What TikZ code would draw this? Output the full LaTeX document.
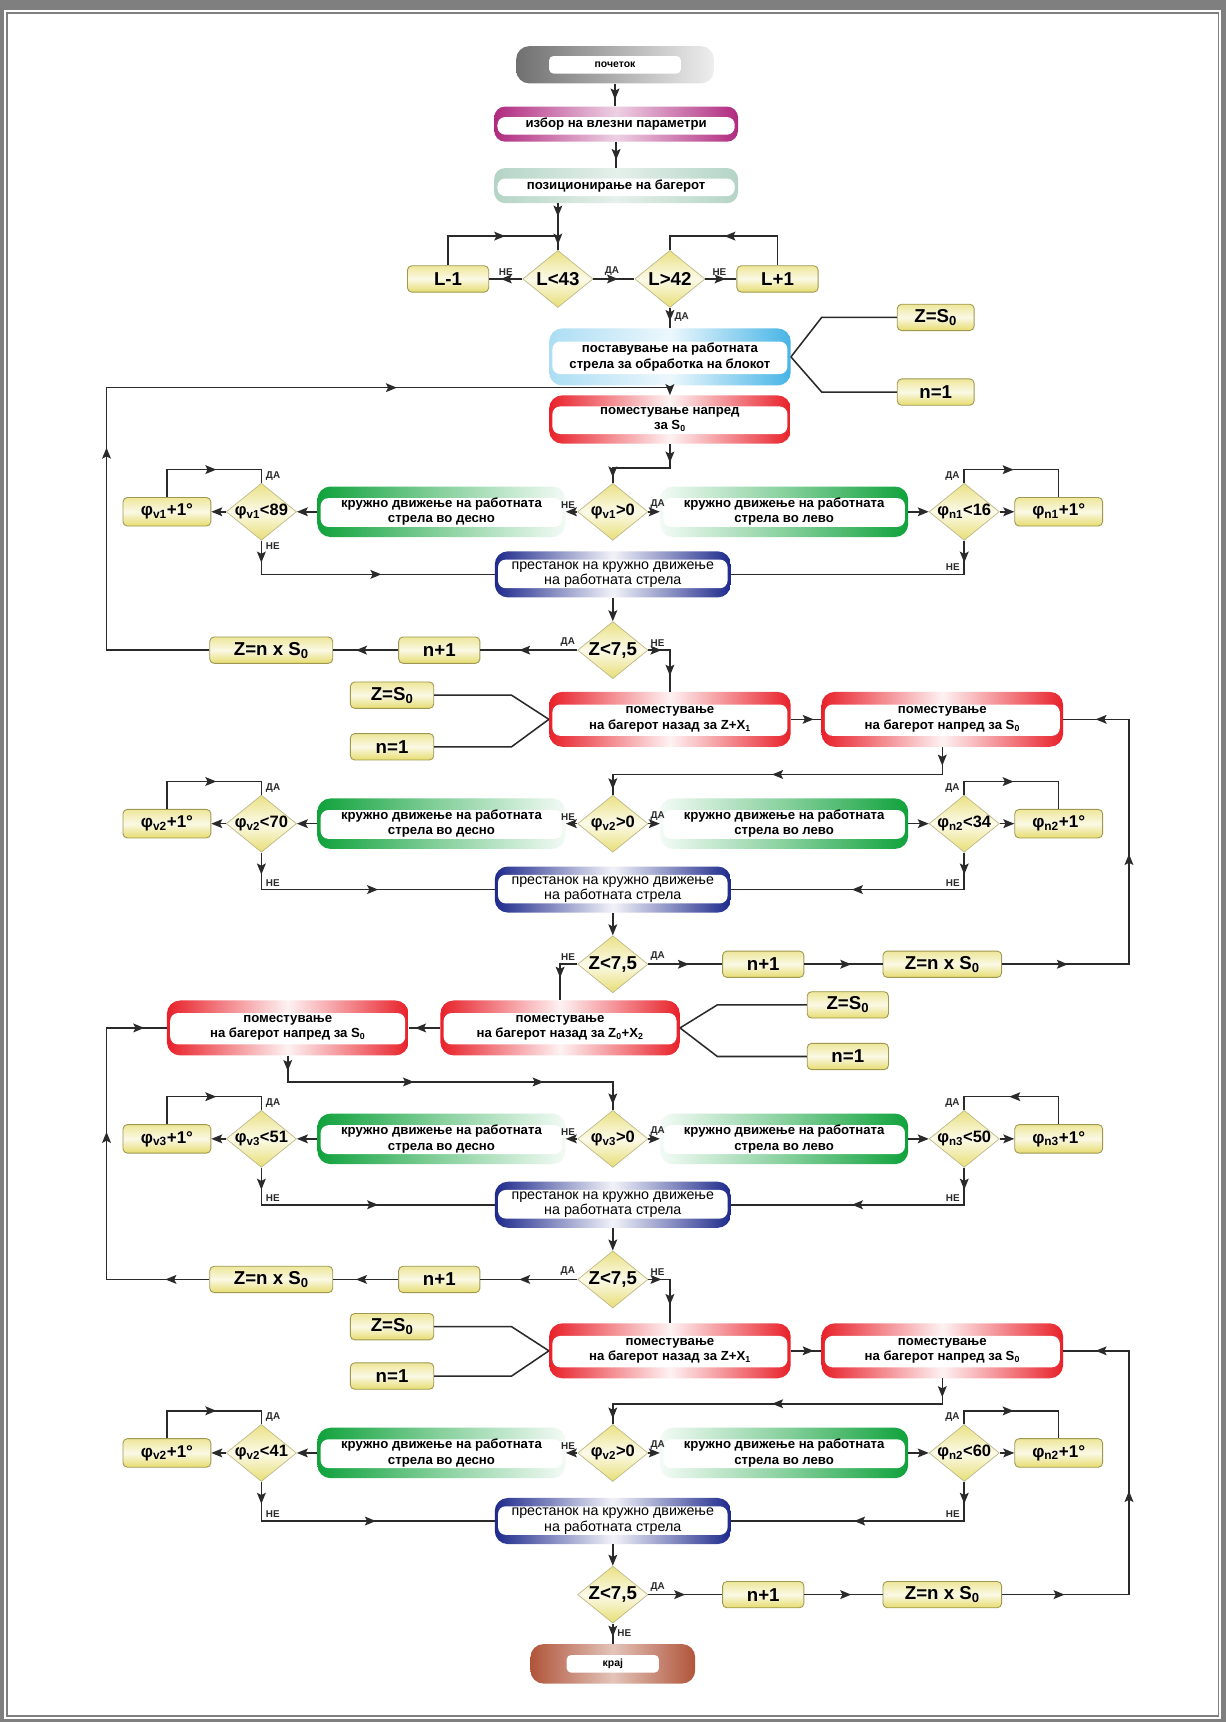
\documentclass[tikz,border=0pt]{standalone}
\usepackage{fontspec}
\setmainfont{Liberation Sans}
\usepackage{tikz}
\usetikzlibrary{positioning,arrows.meta,shapes.geometric,calc,decorations.markings}
\definecolor{FrameGray}{HTML}{7F7F7F}
\definecolor{LineGray}{HTML}{2A2A2A}
\definecolor{BoxYellow}{HTML}{E6DC6E}
\definecolor{BoxEdge}{HTML}{9E9852}
\definecolor{TurnGreen}{HTML}{10A23C}
\definecolor{MoveRed}{HTML}{E8212A}
\definecolor{StopBlue}{HTML}{1E2A8C}
\definecolor{SetBlue}{HTML}{46B4E6}
\definecolor{ParMagenta}{HTML}{B02A80}
\definecolor{PosGreen}{HTML}{B4D4C6}
\definecolor{StartGray}{HTML}{707070}
\definecolor{EndBrown}{HTML}{B0553A}

\begin{document}
\begin{tikzpicture}[x=1pt,y=-1pt,>={Stealth[length=10pt,width=8pt,inset=2pt]},
  every node/.style={align=center,inner sep=0pt},
  line/.style={LineGray,line width=1.4pt},
  arr/.style={line,->},
  marr/.style={postaction={decorate,decoration={markings,
      mark=at position #1 with {\arrow{>}}}}},
  yn/.style={font=\fontsize{9}{9}\selectfont\bfseries,inner sep=1.5pt},
  band/.style={path picture={\fill[white,rounded corners=7pt]
      ($(path picture bounding box.north west)!#1!(path picture bounding box.south west)+(3pt,0pt)$)
      rectangle
      ($(path picture bounding box.south east)!.2!(path picture bounding box.north east)+(-3pt,0pt)$);}},
  pbox/.style={rounded corners=12pt,minimum width=226pt,minimum height=46pt,band=.23,
      font=\fontsize{12}{14}\selectfont\bfseries},
  turnR/.style={pbox,left color=TurnGreen,right color=TurnGreen!5,middle color=TurnGreen!50},
  turnL/.style={pbox,left color=TurnGreen!5,right color=TurnGreen,middle color=TurnGreen!50},
  move/.style={pbox,minimum width=220pt,minimum height=50pt,
      left color=MoveRed,right color=MoveRed,middle color=MoveRed!6},
  halt/.style={pbox,minimum width=215pt,minimum height=42pt,band=.18,
      font=\fontsize{13}{14}\selectfont,
      left color=StopBlue,right color=StopBlue,middle color=StopBlue!6},
  selbox/.style={pbox,minimum width=222pt,minimum height=32pt,rounded corners=10pt,band=.3,
      left color=ParMagenta,right color=ParMagenta,middle color=ParMagenta!22},
  posbox/.style={pbox,minimum width=222pt,minimum height=32pt,rounded corners=10pt,band=.3,
      left color=PosGreen,right color=PosGreen,middle color=PosGreen!35},
  setbox/.style={pbox,minimum width=220pt,minimum height=52pt,
      left color=SetBlue!45,right color=SetBlue,middle color=SetBlue!10},
  term/.style={rounded corners=12pt,minimum height=34pt,font=\fontsize{9.5}{10}\selectfont\bfseries,
      path picture={\fill[white,rounded corners=4pt]
        ($(path picture bounding box.center)+(-#1,-8pt)$) rectangle
        ($(path picture bounding box.center)+(#1,8pt)$);}},
  ybox/.style={draw=BoxEdge,line width=.8pt,rounded corners=4pt,minimum width=#1,minimum height=24pt,
      top color=BoxYellow!70,bottom color=BoxYellow,middle color=BoxYellow!18,
      font=\fontsize{17}{17}\selectfont\bfseries},
  incbox/.style={ybox=80pt,minimum height=26pt,font=\fontsize{15.5}{16}\selectfont\bfseries},
  dec/.style={diamond,aspect=1.25,draw=BoxEdge!70,line width=.6pt,minimum width=64pt,minimum height=52pt,
      top color=BoxYellow!85,bottom color=BoxYellow!95,middle color=BoxYellow!15,
      font=\fontsize{17}{17}\selectfont\bfseries},
  phidec/.style={dec,inner xsep=-3pt,font=\fontsize{15}{15}\selectfont\bfseries}
]
  \useasboundingbox (0,0) rectangle (1116,1568);
  % frame
  \fill[FrameGray] (0,0) rectangle (1116,1568);
  \fill[white] (4,9) rectangle (1112,1565);
  \draw[FrameGray,line width=1.6pt] (6.5,11.5) rectangle (1109.5,1562.5);

  \coordinate (lx) at (97,0);
  \coordinate (rx) at (1028,0);
  \coordinate (jL) at (508,215);
  \coordinate (j0) at (97,353);

  % start and boom setting
  \node[term=60pt,minimum width=180pt,left color=StartGray,right color=StartGray!12] (start) at (560,59) {почеток};
  \node[selbox] (sel) at (561,113) {избор на влезни параметри};
  \node[posbox] (pos) at (561,169) {позиционирање на багерот};
  \node[dec] (dL) at (508,254) {L<43};
  \node[dec] (dR) at (610,254) {L>42};
  \node[ybox=74pt] (lm) at (408,254) {L-1};
  \node[ybox=74pt] (lp) at (708,254) {L+1};
  \node[setbox] (set) at (610,325) {поставување на работната\\стрела за обработка на блокот};
  \node[ybox=70pt] (z0) at (852,289) {Z=S\textsubscript{0}};
  \node[ybox=70pt] (n0) at (852,357) {n=1};
  \node[move,minimum height=44pt] (fw0) at (610,382) {поместување напред\\за S\textsubscript{0}};

  % first pass
  \node[phidec] (dc1) at (558,466) {φ\textsubscript{v1}>0};
  \node[turnR] (gr1) at (402,466) {кружно движење на работната\\стрела во десно};
  \node[turnL] (gl1) at (714,466) {кружно движење на работната\\стрела во лево};
  \node[phidec] (dv1) at (238,466) {φ\textsubscript{v1}<89};
  \node[phidec] (dn1) at (878,466) {φ\textsubscript{n1}<16};
  \node[incbox] (iv1) at (152,466) {φ\textsubscript{v1}+1°};
  \node[incbox] (in1) at (964,466) {φ\textsubscript{n1}+1°};
  \node[halt] (st1) at (558,523) {престанок на кружно движење\\на работната стрела};
  \node[dec] (z1) at (558,592) {Z<7,5};
  \node[ybox=74pt] (ni1) at (400,592) {n+1};
  \node[ybox=112pt] (zn1) at (247,592) {Z=n x S\textsubscript{0}};
  \node[move] (bk1) at (610,655) {поместување\\на багерот назад за Z+X\textsubscript{1}};
  \node[move] (fd1) at (858,655) {поместување\\на багерот напред за S\textsubscript{0}};
  \node[ybox=76pt] (zs1) at (357,633) {Z=S\textsubscript{0}};
  \node[ybox=76pt] (nn1) at (357,680) {n=1};

  % second pass
  \node[phidec] (dc2) at (558,750) {φ\textsubscript{v2}>0};
  \node[turnR] (gr2) at (402,750) {кружно движење на работната\\стрела во десно};
  \node[turnL] (gl2) at (714,750) {кружно движење на работната\\стрела во лево};
  \node[phidec] (dv2) at (238,750) {φ\textsubscript{v2}<70};
  \node[phidec] (dn2) at (878,750) {φ\textsubscript{n2}<34};
  \node[incbox] (iv2) at (152,750) {φ\textsubscript{v2}+1°};
  \node[incbox] (in2) at (964,750) {φ\textsubscript{n2}+1°};
  \node[halt] (st2) at (558,810) {престанок на кружно движење\\на работната стрела};
  \node[dec] (z2) at (558,878) {Z<7,5};
  \node[ybox=74pt] (ni2) at (695,878) {n+1};
  \node[ybox=108pt] (zn2) at (858,878) {Z=n x S\textsubscript{0}};
  \node[move,minimum width=218pt] (bk2) at (510,936) {поместување\\на багерот назад за Z\textsubscript{0}+X\textsubscript{2}};
  \node[move] (fd2) at (262,936) {поместување\\на багерот напред за S\textsubscript{0}};
  \node[ybox=74pt] (zs2) at (772,915) {Z=S\textsubscript{0}};
  \node[ybox=74pt] (nn2) at (772,962) {n=1};

  % third pass
  \node[phidec] (dc3) at (558,1037) {φ\textsubscript{v3}>0};
  \node[turnR] (gr3) at (402,1037) {кружно движење на работната\\стрела во десно};
  \node[turnL] (gl3) at (714,1037) {кружно движење на работната\\стрела во лево};
  \node[phidec] (dv3) at (238,1037) {φ\textsubscript{v3}<51};
  \node[phidec] (dn3) at (878,1037) {φ\textsubscript{n3}<50};
  \node[incbox] (iv3) at (152,1037) {φ\textsubscript{v3}+1°};
  \node[incbox] (in3) at (964,1037) {φ\textsubscript{n3}+1°};
  \node[halt] (st3) at (558,1097) {престанок на кружно движење\\на работната стрела};
  \node[dec] (z3) at (558,1165) {Z<7,5};
  \node[ybox=74pt] (ni3) at (400,1165) {n+1};
  \node[ybox=112pt] (zn3) at (247,1165) {Z=n x S\textsubscript{0}};
  \node[move] (bk3) at (610,1230) {поместување\\на багерот назад за Z+X\textsubscript{1}};
  \node[move] (fd3) at (858,1230) {поместување\\на багерот напред за S\textsubscript{0}};
  \node[ybox=76pt] (zs3) at (357,1208) {Z=S\textsubscript{0}};
  \node[ybox=76pt] (nn3) at (357,1253) {n=1};

  % last pass and end
  \node[phidec] (dc4) at (558,1323) {φ\textsubscript{v2}>0};
  \node[turnR] (gr4) at (402,1323) {кружно движење на работната\\стрела во десно};
  \node[turnL] (gl4) at (714,1323) {кружно движење на работната\\стрела во лево};
  \node[phidec] (dv4) at (238,1323) {φ\textsubscript{v2}<41};
  \node[phidec] (dn4) at (878,1323) {φ\textsubscript{n2}<60};
  \node[incbox] (iv4) at (152,1323) {φ\textsubscript{v2}+1°};
  \node[incbox] (in4) at (964,1323) {φ\textsubscript{n2}+1°};
  \node[halt] (st4) at (558,1385) {престанок на кружно движење\\на работната стрела};
  \node[dec] (z4) at (558,1452) {Z<7,5};
  \node[ybox=74pt] (ni4) at (695,1452) {n+1};
  \node[ybox=108pt] (zn4) at (858,1452) {Z=n x S\textsubscript{0}};
  \node[term=42pt,minimum width=150pt,minimum height=36pt,left color=EndBrown,right color=EndBrown,middle color=EndBrown!35] (fin) at (558,1515) {крај};

  % connectors, top
  \draw[line,marr=.7] (start.south) -- (start.south |- sel.north);
  \draw[line,marr=.7] (sel.south) -- (sel.south |- pos.north);
  \draw[line,marr=12pt,marr=-5pt] (pos.south -| dL.north) -- (dL.north);
  \draw[line,marr=.65] (dL.west) -- (lm.east) node[yn,pos=.5,above=1pt]{НЕ};
  \draw[line,marr=-48pt] (lm.north) |- (jL);
  \draw[line,marr=.6] (dL.east) -- (dR.west) node[yn,pos=.45,above=1pt]{ДА};
  \draw[line,marr=.65] (dR.east) -- (lp.west) node[yn,pos=.45,above=1pt]{НЕ};
  \draw[line,marr=75pt] (lp.north) |- (dR.north |- jL) -- (dR.north);
  \draw[line,marr=12pt] (dR.south) -- (dR.south |- set.north) node[yn,pos=.45,right=2pt]{ДА};
  \draw[line] (set.east) -- ++(28,-36) -- (z0.west);
  \draw[line] (set.east) -- ++(28,32) -- (n0.west);
  \draw[arr] (set.south) -- (fw0.north);
  \draw[line,marr=17pt,marr=-5pt] (fw0.south) -- ++(0,22) -| (dc1.north);

  % connectors, first pass
  \draw[arr] (dc1.west) node[yn,anchor=south east,yshift=1pt]{НЕ} -- (gr1.east);
  \draw[arr] (dc1.east) node[yn,anchor=south west,yshift=1pt]{ДА} -- (gl1.west);
  \draw[arr] (gr1.west) -- (dv1.east);
  \draw[arr] (dv1.west) -- (iv1.east);
  \draw[arr] (gl1.east) -- (dn1.west);
  \draw[arr] (dn1.east) -- (in1.west);
  \draw[line,marr=70pt] (iv1.north) -- ++(0,-25) -| (dv1.north) node[yn,anchor=south west,xshift=2pt]{ДА};
  \draw[line,marr=57pt] (dn1.north) node[yn,anchor=south east,xshift=-2pt]{ДА} -- ++(0,-12) -| (in1.north);
  \draw[line,marr=20pt,marr=140pt] (dv1.south) node[yn,anchor=north west,xshift=2pt]{НЕ} |- (st1.west);
  \draw[line,marr=20pt] (dn1.south) |- (st1.east) node[yn,pos=.5,anchor=south east,xshift=-2pt,yshift=1pt]{НЕ};
  \draw[arr] (st1) -- (z1);
  \draw[line,marr=.6] (z1.west) node[yn,anchor=south east,yshift=1pt]{ДА} -- (ni1.east);
  \draw[line,marr=.65] (ni1.west) -- (zn1.east);
  \draw[line,marr=278pt,marr=597pt] (zn1.west) -| (j0) -- (j0 -| fw0.north);
  \draw[line,marr=12pt,marr=43pt] (z1.east) node[yn,anchor=south west,yshift=1pt]{НЕ} -| (bk1.north);
  \draw[line] (bk1.west) -- ++(-34,-22) -- (zs1.east);
  \draw[line] (bk1.west) -- ++(-34,25) -- (nn1.east);
  \draw[line,marr=.75] (bk1.east) -- (fd1.west);
  \draw[line,marr=60pt,marr=216pt,marr=369pt] (zn2.east) -- (zn2.east -| rx) -- (rx |- fd1.east) -- (fd1.east);
  \draw[line,marr=17pt,marr=180pt,marr=-5pt] (fd1.south) -- ++(0,25) -| (dc2.north);

  % connectors, second pass
  \draw[arr] (dc2.west) node[yn,anchor=south east,yshift=1pt]{НЕ} -- (gr2.east);
  \draw[arr] (dc2.east) node[yn,anchor=south west,yshift=1pt]{ДА} -- (gl2.west);
  \draw[arr] (gr2.west) -- (dv2.east);
  \draw[arr] (dv2.west) -- (iv2.east);
  \draw[arr] (gl2.east) -- (dn2.west);
  \draw[arr] (dn2.east) -- (in2.west);
  \draw[line,marr=70pt] (iv2.north) -- ++(0,-25) -| (dv2.north) node[yn,anchor=south west,xshift=2pt]{ДА};
  \draw[line,marr=57pt] (dn2.north) node[yn,anchor=south east,xshift=-2pt]{ДА} -- ++(0,-12) -| (in2.north);
  \draw[line,marr=20pt,marr=140pt] (dv2.south) |- (st2.west) node[yn,pos=.5,anchor=south west,xshift=2pt,yshift=1pt]{НЕ};
  \draw[line,marr=20pt,marr=136pt] (dn2.south) |- (st2.east) node[yn,pos=.5,anchor=south east,xshift=-2pt,yshift=1pt]{НЕ};
  \draw[arr] (st2) -- (z2);
  \draw[line,marr=28pt] (z2.west) node[yn,anchor=south east,yshift=1pt]{НЕ} -| (bk2.north);
  \draw[line,marr=.55] (z2.east) node[yn,anchor=south west,yshift=1pt]{ДА} -- (ni2.west);
  \draw[line,marr=.6] (ni2.east) -- (zn2.west);
  \draw[line] (bk2.east) -- ++(34,-21) -- (zs2.west);
  \draw[line] (bk2.east) -- ++(34,26) -- (nn2.west);
  \draw[line,marr=.8] (bk2.west) -- (fd2.east);
  \draw[line,marr=40pt,marr=228pt,marr=357pt] (zn3.west) -- (zn3.west -| lx) -- (lx |- fd2.west) -- (fd2.west);
  \draw[line,marr=14pt,marr=139pt,marr=257pt,marr=-5pt] (fd2.south) -- ++(0,24) -| (dc3.north);

  % connectors, third pass
  \draw[arr] (dc3.west) node[yn,anchor=south east,yshift=1pt]{НЕ} -- (gr3.east);
  \draw[arr] (dc3.east) node[yn,anchor=south west,yshift=1pt]{ДА} -- (gl3.west);
  \draw[arr] (gr3.west) -- (dv3.east);
  \draw[arr] (dv3.west) -- (iv3.east);
  \draw[arr] (gl3.east) -- (dn3.west);
  \draw[arr] (dn3.east) -- (in3.west);
  \draw[line,marr=70pt] (iv3.north) -- ++(0,-25) -| (dv3.north) node[yn,anchor=south west,xshift=2pt]{ДА};
  \draw[line,marr=70pt] (in3.north) -- ++(0,-25) -| (dn3.north) node[yn,anchor=south east,xshift=-2pt]{ДА};
  \draw[line,marr=20pt,marr=140pt] (dv3.south) |- (st3.west) node[yn,pos=.5,anchor=south west,xshift=2pt,yshift=1pt]{НЕ};
  \draw[line,marr=20pt,marr=136pt] (dn3.south) |- (st3.east) node[yn,pos=.5,anchor=south east,xshift=-2pt,yshift=1pt]{НЕ};
  \draw[arr] (st3) -- (z3);
  \draw[line,marr=.6] (z3.west) node[yn,anchor=south east,yshift=1pt]{ДА} -- (ni3.east);
  \draw[line,marr=.65] (ni3.west) -- (zn3.east);
  \draw[line,marr=12pt,marr=43pt] (z3.east) node[yn,anchor=south west,yshift=1pt]{НЕ} -| (bk3.north);
  \draw[line] (bk3.west) -- ++(-34,-22) -- (zs3.east);
  \draw[line] (bk3.west) -- ++(-34,23) -- (nn3.east);
  \draw[line,marr=.75] (bk3.east) -- (fd3.west);
  \draw[line,marr=57pt,marr=210pt,marr=368pt] (zn4.east) -- (zn4.east -| rx) -- (rx |- fd3.east) -- (fd3.east);
  \draw[line,marr=17pt,marr=178pt,marr=-5pt] (fd3.south) -- ++(0,23) -| (dc4.north);

  % connectors, last pass
  \draw[arr] (dc4.west) node[yn,anchor=south east,yshift=1pt]{НЕ} -- (gr4.east);
  \draw[arr] (dc4.east) node[yn,anchor=south west,yshift=1pt]{ДА} -- (gl4.west);
  \draw[arr] (gr4.west) -- (dv4.east);
  \draw[arr] (dv4.west) -- (iv4.east);
  \draw[arr] (gl4.east) -- (dn4.west);
  \draw[arr] (dn4.east) -- (in4.west);
  \draw[line,marr=70pt] (iv4.north) -- ++(0,-25) -| (dv4.north) node[yn,anchor=south west,xshift=2pt]{ДА};
  \draw[line,marr=57pt] (dn4.north) node[yn,anchor=south east,xshift=-2pt]{ДА} -- ++(0,-12) -| (in4.north);
  \draw[line,marr=20pt,marr=140pt] (dv4.south) |- (st4.west) node[yn,pos=.5,anchor=south west,xshift=2pt,yshift=1pt]{НЕ};
  \draw[line,marr=20pt,marr=136pt] (dn4.south) |- (st4.east) node[yn,pos=.5,anchor=south east,xshift=-2pt,yshift=1pt]{НЕ};
  \draw[arr] (st4) -- (z4);
  \draw[line,marr=.5] (z4.east) node[yn,anchor=south west,yshift=1pt]{ДА} -- (ni4.west);
  \draw[line,marr=.6] (ni4.east) -- (zn4.west);
  \draw[line,marr=.65] (z4.south) -- (fin.north) node[yn,pos=.45,right=2pt]{НЕ};
\end{tikzpicture}
\end{document}
